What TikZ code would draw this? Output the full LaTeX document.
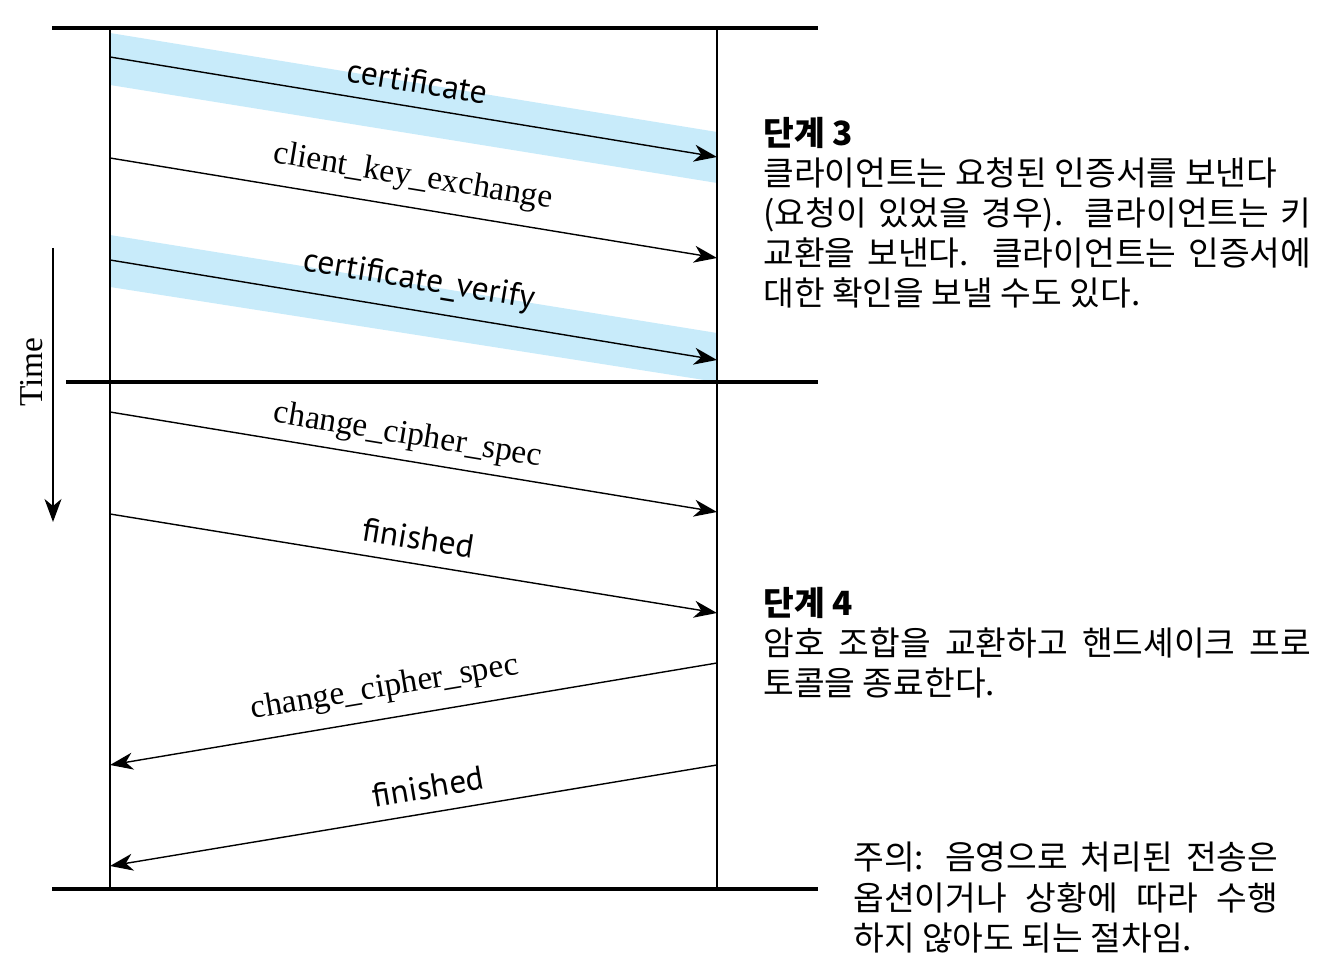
\documentclass[tikz,border=0pt]{standalone}
\usepackage{fontspec}
\setmainfont{Liberation Serif}
\newfontfamily\krfont{Noto Sans CJK KR}
\newfontfamily\lblsans{PT Sans}
\usepackage{tikz}
\usetikzlibrary{arrows.meta, positioning}
\definecolor{bandblue}{RGB}{200,235,250}

\begin{document}
\begin{tikzpicture}[x=0.02cm, y=0.02cm,
    bar/.style={line width=2.4pt},
    lifeline/.style={line width=0.8pt},
    msg/.style={line width=0.8pt, -{Stealth[length=0.46cm, width=0.34cm, inset=0.14cm]}},
    serlbl/.style={font=\fontsize{19}{22}\selectfont, sloped, above=7pt, inner sep=1pt},
    sanlbl/.style={font=\lblsans\fontsize{19}{22}\selectfont, sloped, above=6.5pt, inner sep=1pt},
    note/.style={font=\krfont\fontsize{19}{22.8}\selectfont, inner sep=0pt, anchor=north west, align=justify}]
    \useasboundingbox (0,0) rectangle (1321,966);
    \fill[bandblue] (110,933) -- (717,834) -- (717,783) -- (110,881) -- cycle;
    \fill[bandblue] (110,731) -- (717,633) -- (717,584) -- (110,679) -- cycle;
    \coordinate (clTop) at (110,938);
    \coordinate (clBot) at (110,77);
    \coordinate (svTop) at (717,938);
    \coordinate (svBot) at (717,77);
    \draw[lifeline] (clTop) -- (clBot);
    \draw[lifeline] (svTop) -- (svBot);
    \draw[bar] (52,938) -- (818,938);
    \draw[bar] (66,584) -- (818,584);
    \draw[bar] (52,77) -- (818,77);
    \coordinate (m1a) at (110,909);
    \coordinate (m1b) at (717,809);
    \coordinate (m2a) at (110,808);
    \coordinate (m2b) at (717,708);
    \coordinate (m3a) at (110,706);
    \coordinate (m3b) at (717,606);
    \coordinate (m4a) at (110,554);
    \coordinate (m4b) at (717,454);
    \coordinate (m5a) at (110,452);
    \coordinate (m5b) at (717,353);
    \coordinate (m6a) at (717,303);
    \coordinate (m6b) at (110,201);
    \coordinate (m7a) at (717,201);
    \coordinate (m7b) at (110,100);
    \draw[msg] (m1a) -- node[sanlbl, pos=0.499] (cert) {certificate} (m1b);
    \draw[msg] (m2a) -- node[serlbl, pos=0.491] (cke) {client\_key\_exchange} (m2b);
    \draw[msg] (m3a) -- node[sanlbl, pos=0.501] (cv) {certificate\_verify} (m3b);
    \draw[msg] (m4a) -- node[serlbl, pos=0.484, above=4pt] (ccsC) {change\_cipher\_spec} (m4b);
    \draw[msg] (m5a) -- node[sanlbl, pos=0.501] (finC) {finished} (m5b);
    \draw[msg] (m6a) -- node[serlbl, pos=0.539] (ccsS) {change\_cipher\_spec} (m6b);
    \draw[msg] (m7a) -- node[sanlbl, pos=0.469] (finS) {finished} (m7b);
    \coordinate (tStart) at (53,718);
    \coordinate (tEnd) at (53,444);
    \draw[msg] (tStart) -- (tEnd);
    \node[font=\fontsize{19}{22}\selectfont, rotate=90] (time) at (32,594) {Time};
    \node[note, text width=10.96cm] (phase3) at (763,849)
        {{\bfseries 단계 3}\\
        클라이언트는 요청된 인증서를 보낸다\\
        (요청이 있었을 경우). 클라이언트는 키\linebreak
        교환을 보낸다. 클라이언트는 인증서에\linebreak
        대한 확인을 보낼 수도 있다.};
    \node[note, text width=10.96cm] (phase4) at (763,379)
        {{\bfseries 단계 4}\\
        암호 조합을 교환하고 핸드셰이크 프로\linebreak
        토콜을 종료한다.};
    \node[note, text width=8.5cm] (remark) at (853,124)
        {주의: 음영으로 처리된 전송은\linebreak
        옵션이거나 상황에 따라 수행\linebreak
        하지 않아도 되는 절차임.};
\end{tikzpicture}
\end{document}
